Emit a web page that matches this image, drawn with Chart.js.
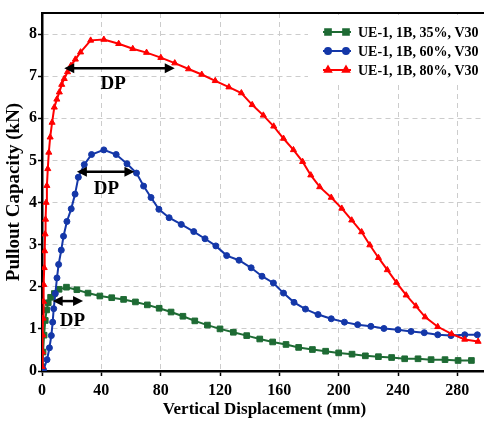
<!DOCTYPE html>
<html>
<head>
<meta charset="utf-8">
<script src="https://cdn.jsdelivr.net/npm/chart.js@4.4.0/dist/chart.umd.min.js"></script>
<style>
  html, body { margin: 0; padding: 0; background: #fff; overflow: hidden; }
</style>
</head>
<body>
<canvas id="plot" width="492" height="421"></canvas>
<script>
// series: UE-1, 1B, 35%, V30
var x35 = [0, 0.7, 1.4, 2.2, 3.1, 4.2, 5.8, 8.3, 11.5, 16.5, 23.5, 31, 39, 47, 55, 63, 71, 79, 87, 95, 103, 111.5, 120, 129, 138, 146.8, 155.5, 164.5, 173, 182.3, 191.2, 200, 209, 218, 226.8, 235.7, 244.5, 253.5, 262.3, 271.7, 280.5, 289.5];
var y35 = [0.1, 0.45, 0.85, 1.2, 1.45, 1.62, 1.75, 1.84, 1.94, 1.99, 1.93, 1.85, 1.78, 1.74, 1.7, 1.64, 1.57, 1.49, 1.4, 1.3, 1.19, 1.09, 1.0, 0.92, 0.84, 0.76, 0.69, 0.63, 0.56, 0.51, 0.47, 0.43, 0.40, 0.36, 0.34, 0.32, 0.29, 0.29, 0.27, 0.27, 0.25, 0.25];

// series: UE-1, 1B, 60%, V30
var x60 = [1, 3.4, 5, 6.3, 7.2, 7.9, 9, 10.1, 11.2, 13, 14.5, 16.8, 19.7, 22.3, 24.5, 28.5, 33.4, 41.7, 50, 57.3, 63.7, 68.5, 73.5, 78.8, 85.7, 93.9, 102.3, 109.9, 117.2, 124.5, 132.8, 141, 148.3, 156, 162.8, 169.9, 177.6, 186.1, 195, 203.9, 212.8, 221.7, 230.5, 240, 248.8, 257.7, 266.8, 275.7, 285, 293.5];
var y60 = [0.03, 0.27, 0.55, 0.84, 1.16, 1.48, 1.84, 2.21, 2.53, 2.87, 3.2, 3.55, 3.85, 4.2, 4.6, 4.9, 5.14, 5.25, 5.14, 4.92, 4.7, 4.39, 4.12, 3.84, 3.64, 3.48, 3.31, 3.14, 2.97, 2.74, 2.63, 2.45, 2.25, 2.09, 1.85, 1.63, 1.47, 1.34, 1.24, 1.16, 1.1, 1.06, 1.01, 0.98, 0.94, 0.91, 0.86, 0.84, 0.86, 0.86];

// series: UE-1, 1B, 80%, V30
var x80 = [0, 0.3, 0.5, 0.7, 1.0, 1.2, 1.5, 1.8, 2.1, 2.4, 2.8, 3.3, 3.9, 4.6, 5.5, 6.8, 8.3, 10, 11.7, 13.3, 15, 17.2, 19.5, 22.5, 26, 32.8, 41.7, 51.7, 61.2, 70.5, 80.1, 89.5, 98.8, 107.7, 116.8, 126, 134.4, 141.7, 149.2, 156.2, 162.8, 169.5, 175.7, 181.2, 187.2, 195, 202.1, 208.8, 215.5, 221, 226.8, 232.8, 239, 245.5, 252.1, 258.3, 266.8, 276.1, 285, 294];
var y80 = [0.1, 0.45, 0.85, 1.25, 1.65, 2.05, 2.45, 2.85, 3.25, 3.6, 4.0, 4.4, 4.8, 5.19, 5.55, 5.9, 6.26, 6.45, 6.62, 6.8, 6.94, 7.1, 7.25, 7.4, 7.57, 7.85, 7.87, 7.77, 7.65, 7.56, 7.44, 7.31, 7.17, 7.04, 6.89, 6.74, 6.6, 6.32, 6.07, 5.81, 5.52, 5.25, 4.97, 4.65, 4.37, 4.12, 3.86, 3.58, 3.3, 2.99, 2.69, 2.4, 2.1, 1.8, 1.54, 1.28, 1.05, 0.88, 0.75, 0.7];

var seriesNames = ['UE-1, 1B, 35%, V30', 'UE-1, 1B, 60%, V30', 'UE-1, 1B, 80%, V30'];

// DP arrows: start / end displacement (mm) and load level (kN), label position
var dpStart = [15, 23.5, 7.2];
var dpEnd = [89.5, 62.3, 27.7];
var dpLoad = [7.19, 4.73, 1.66];
var dpLabelX = [48, 43.5, 20.5];
var dpLabelY = [6.82, 4.32, 1.18];

var xTicks = [0, 40, 80, 120, 160, 200, 240, 280];
var yTicks = [0, 1, 2, 3, 4, 5, 6, 7, 8];

function toPoints(xs, ys) {
    return xs.map(function (x, i) { return { x: x, y: ys[i] }; });
}

var serif = "'Liberation Serif', 'Times New Roman', serif";

var dpPlugin = {
    id: 'dpArrows',
    afterDatasetsDraw: function (chart) {
        var ctx = chart.ctx;
        var xs = chart.scales.x, ys = chart.scales.y;
        ctx.save();
        ctx.strokeStyle = '#000';
        ctx.fillStyle = '#000';
        ctx.lineWidth = 2.5;
        for (var i = 0; i < dpStart.length; i++) {
            var x1 = xs.getPixelForValue(dpStart[i]);
            var x2 = xs.getPixelForValue(dpEnd[i]);
            var y = ys.getPixelForValue(dpLoad[i]);
            ctx.beginPath();
            ctx.moveTo(x1 + 6, y);
            ctx.lineTo(x2 - 6, y);
            ctx.stroke();
            ctx.beginPath();
            ctx.moveTo(x1, y);
            ctx.lineTo(x1 + 10, y - 5);
            ctx.lineTo(x1 + 10, y + 5);
            ctx.closePath();
            ctx.fill();
            ctx.beginPath();
            ctx.moveTo(x2, y);
            ctx.lineTo(x2 - 10, y - 5);
            ctx.lineTo(x2 - 10, y + 5);
            ctx.closePath();
            ctx.fill();
            ctx.font = 'bold 19px ' + serif;
            ctx.textAlign = 'center';
            ctx.textBaseline = 'middle';
            ctx.fillText('DP', xs.getPixelForValue(dpLabelX[i]), ys.getPixelForValue(dpLabelY[i]));
        }
        ctx.restore();
    }
};

var framePlugin = {
    id: 'frameAndLegend',
    afterDraw: function (chart) {
        var ctx = chart.ctx, a = chart.chartArea;
        ctx.save();
        // top frame line
        ctx.strokeStyle = '#000';
        ctx.lineWidth = 2;
        ctx.beginPath();
        ctx.moveTo(a.left, a.top);
        ctx.lineTo(a.right, a.top);
        ctx.stroke();

        // legend box (white, covers grid)
        ctx.fillStyle = '#fff';
        ctx.fillRect(308, a.top + 2, a.right - 308, 68);
        var rowY = [32, 51, 70];
        chart.data.datasets.forEach(function (ds, i) {
            var y = rowY[i];
            ctx.strokeStyle = ds.borderColor;
            ctx.lineWidth = 2;
            ctx.beginPath();
            ctx.moveTo(323, y);
            ctx.lineTo(351, y);
            ctx.stroke();
            [328, 346].forEach(function (px) {
                Chart.helpers.drawPoint(ctx, {
                    pointStyle: ds.pointStyle,
                    radius: ds.pointRadius,
                    borderWidth: 1,
                    rotation: 0
                }, px, y);
                ctx.fillStyle = ds.pointBackgroundColor;
                ctx.fill();
            });
            ctx.fillStyle = '#000';
            ctx.font = 'bold 14px ' + serif;
            ctx.textAlign = 'left';
            ctx.textBaseline = 'middle';
            ctx.fillText(ds.label, 358, y + 1);
        });
        ctx.restore();
    }
};

var ctx = document.getElementById('plot').getContext('2d');
var myChart = new Chart(ctx, {
    type: 'line',
    data: {
        datasets: [{
            label: seriesNames[0],
            data: toPoints(x35, y35),
            borderColor: '#1e6b34',
            backgroundColor: '#1e6b34',
            pointBackgroundColor: '#1e6b34',
            pointBorderColor: '#1e6b34',
            pointStyle: 'rect',
            pointRadius: 4,
            pointBorderWidth: 1,
            borderWidth: 2,
            order: 3
        },
        {
            label: seriesNames[1],
            data: toPoints(x60, y60),
            borderColor: '#1437a8',
            backgroundColor: '#1437a8',
            pointBackgroundColor: '#1437a8',
            pointBorderColor: '#1437a8',
            pointStyle: 'circle',
            pointRadius: 3,
            pointBorderWidth: 1,
            borderWidth: 2,
            order: 2
        },
        {
            label: seriesNames[2],
            data: toPoints(x80, y80),
            borderColor: '#ff0000',
            backgroundColor: '#ff0000',
            pointBackgroundColor: '#ff0000',
            pointBorderColor: '#ff0000',
            pointStyle: 'triangle',
            pointRadius: 3.5,
            pointBorderWidth: 1,
            borderWidth: 2,
            order: 1
        }]
    },
    options: {
        responsive: false,
        animation: false,
        layout: { padding: { left: 0, right: 0, top: 13, bottom: 0 } },
        plugins: {
            legend: { display: false },
            tooltip: { enabled: false }
        },
        scales: {
            x: {
                type: 'linear',
                min: 0,
                max: 300,
                afterBuildTicks: function (s) {
                    s.ticks = xTicks.map(function (v) { return { value: v }; });
                },
                afterFit: function (s) {
                    s.height = 50;
                    s.paddingLeft = 0;
                    s.paddingRight = 0;
                },
                ticks: {
                    color: '#000',
                    padding: 5,
                    maxRotation: 0,
                    font: { family: serif, size: 16, weight: 'bold' }
                },
                grid: {
                    color: '#cccccc',
                    lineWidth: 1,
                    tickLength: 5,
                    tickColor: '#000',
                    tickWidth: 1.5,
                    tickBorderDash: []
                },
                border: { display: true, color: '#000', width: 2.5, dash: [5, 4] },
                title: {
                    display: true,
                    text: 'Vertical Displacement (mm)',
                    color: '#000',
                    padding: { top: 0, bottom: 1 },
                    font: { family: serif, size: 17, weight: 'bold' }
                }
            },
            y: {
                type: 'linear',
                min: 0,
                max: 8.5,
                afterBuildTicks: function (s) {
                    s.ticks = yTicks.map(function (v) { return { value: v }; });
                },
                afterFit: function (s) {
                    s.width = 42;
                    s.paddingTop = 0;
                    s.paddingBottom = 0;
                },
                ticks: {
                    color: '#000',
                    padding: 1,
                    font: { family: serif, size: 16, weight: 'bold' }
                },
                grid: {
                    color: '#cccccc',
                    lineWidth: 1,
                    tickLength: 4,
                    tickColor: '#000',
                    tickWidth: 1.5,
                    tickBorderDash: []
                },
                border: { display: true, color: '#000', width: 2.5, dash: [5, 4] },
                title: {
                    display: true,
                    text: 'Pullout Capacity (kN)',
                    color: '#000',
                    padding: { top: 3, bottom: 0 },
                    font: { family: serif, size: 19, weight: 'bold' }
                }
            }
        }
    },
    plugins: [dpPlugin, framePlugin]
});
</script>
</body>
</html>
